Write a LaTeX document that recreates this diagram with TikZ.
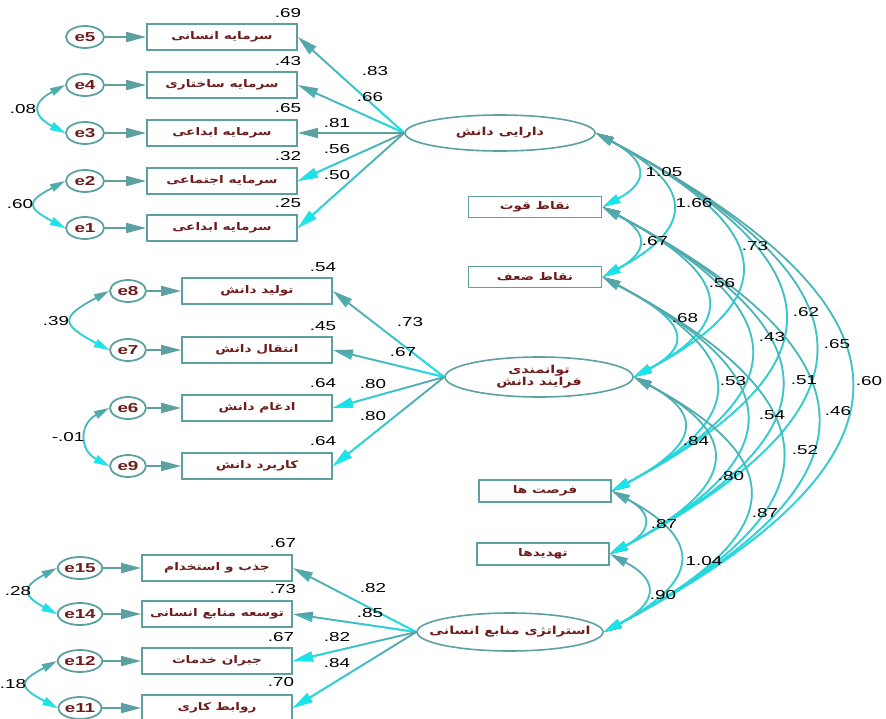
\documentclass[tikz,border=0pt]{standalone}
\usepackage{fontspec}
\setmainfont{Liberation Sans}[FakeStretch=1.45]
\newfontfamily\fa[Script=Arabic,FakeStretch=1.3]{DejaVu Sans}
\TeXXeTstate=1
\usetikzlibrary{arrows.meta,shapes.geometric,fadings,calc}
\definecolor{tealc}{RGB}{92,160,162}
\definecolor{cyanc}{RGB}{20,235,240}
\definecolor{textc}{RGB}{110,28,28}
\tikzfading[name=fadetop, top color=transparent!100, bottom color=transparent!0]
\newcommand{\fatext}[1]{{\fa\bfseries\beginR #1\endR}}
\newcommand{\lattext}[1]{\makebox[0pt]{\fatext{#1}}}
\newcommand{\gpath}[2]{\draw[tealc,#1] #2; \draw[cyanc,#1,path fading=fadetop] #2;}
\tikzset{
  box/.style={draw=tealc, line width=1.8pt, minimum width=150pt, minimum height=26pt, inner sep=0pt, text=textc, font=\fontsize{10.5}{13}\selectfont},
  rbox/.style={box, minimum width=133pt, minimum height=21pt},
  enode/.style={ellipse, draw=tealc, line width=1.8pt, minimum width=38pt, minimum height=22pt, inner sep=0pt, text=textc, font=\bfseries\fontsize{13}{15}\selectfont},
  lat/.style={ellipse, draw=tealc, line width=1.6pt, inner sep=0pt, text=textc, align=center, font=\fontsize{11}{13}\selectfont},
  num/.style={font=\fontsize{13}{15}\selectfont, inner sep=0pt, text=black},
  arr/.style={line width=1.8pt, -{Triangle[length=20pt,width=10pt]}},
  dbl/.style={line width=1.7pt, {Triangle[length=18pt,width=9pt]}-{Triangle[length=18pt,width=9pt]}},
  sdbl/.style={line width=1.7pt, {Triangle[length=15pt,width=8pt]}-{Triangle[length=15pt,width=8pt]}},
  covarc/.style={out=-28,in=28,looseness=1.93},
}
\begin{document}
\begin{tikzpicture}[x=1pt,y=1pt]
\useasboundingbox (0,0) rectangle (886,-718);
% ---------- block 1 ----------
\node[enode] (e5) at (85,-37) {e5};
\node[enode] (e4) at (85,-85) {e4};
\node[enode] (e3) at (85,-133) {e3};
\node[enode] (e2) at (85,-181) {e2};
\node[enode] (e1) at (85,-228) {e1};
\node[box] (k1) at (222,-37) {\fatext{سرمایه انسانی}};
\node[box] (k2) at (222,-85) {\fatext{سرمایه ساختاری}};
\node[box] (k3) at (222,-133) {\fatext{سرمایه ابداعی}};
\node[box] (k4) at (222,-181) {\fatext{سرمایه اجتماعی}};
\node[box] (k5) at (222,-228) {\fatext{سرمایه ابداعی}};
\node[lat, minimum width=190pt, minimum height=36pt] (A) at (500,-133) {\lattext{دارایی دانش}};
\foreach \e/\k in {e5/k1,e4/k2,e3/k3,e2/k4,e1/k5}{\draw[tealc,arr] (\e.east) -- (\k.west);}
\gpath{arr}{(A.west) -- (k1.east)}
\gpath{arr}{(A.west) -- (k2.east)}
\draw[tealc,arr] (A.west) -- (k3.east);
\gpath{arr}{(A.west) -- (k4.east)}
\gpath{arr}{(A.west) -- (k5.east)}
\gpath{sdbl}{(e4.west) to[out=208,in=152,looseness=2.0] (e3.west)}
\gpath{sdbl}{(e2.west) to[out=208,in=152,looseness=2.4] (e1.west)}
\node[num] (r1) at (288,-13) {.69};
\node[num] (r2a) at (288,-61) {.43};
\node[num] (r3) at (288,-108) {.65};
\node[num] (r4) at (288,-156) {.32};
\node[num] (r5) at (288,-203) {.25};
\node[num] (l1) at (375,-71) {.83};
\node[num] (l2) at (370,-97) {.66};
\node[num] (l3) at (337,-123) {.81};
\node[num] (l4) at (337,-149) {.56};
\node[num] (l5) at (337,-175) {.50};
\node[num] (c1) at (23,-109) {.08};
\node[num] (c2) at (20,-204) {.60};
% ---------- block 2 ----------
\node[enode, minimum width=36pt] (e8) at (128,-291) {e8};
\node[enode, minimum width=36pt] (e7) at (128,-350) {e7};
\node[enode, minimum width=36pt] (e6) at (128,-408) {e6};
\node[enode, minimum width=36pt] (e9) at (128,-466) {e9};
\node[box] (p1) at (257,-291) {\fatext{تولید دانش}};
\node[box] (p2) at (257,-350) {\fatext{انتقال دانش}};
\node[box] (p3) at (257,-408) {\fatext{ادغام دانش}};
\node[box] (p4) at (257,-466) {\fatext{کاربرد دانش}};
\node[lat, minimum width=188pt, minimum height=40pt] (D) at (539,-377) {\lattext{توانمندی}\\[-1pt]\lattext{فرایند دانش}};
\foreach \e/\k in {e8/p1,e7/p2,e6/p3,e9/p4}{\draw[tealc,arr] (\e.east) -- (\k.west);}
\gpath{arr}{(D.west) -- (p1.east)}
\gpath{arr}{(D.west) -- (p2.east)}
\gpath{arr}{(D.west) -- (p3.east)}
\gpath{arr}{(D.west) -- (p4.east)}
\gpath{sdbl}{(e8.west) to[out=208,in=152,looseness=2.4] (e7.west)}
\gpath{sdbl}{(e6.west) to[out=208,in=152,looseness=1.5] (e9.west)}
\node[num] (r6) at (323,-267) {.54};
\node[num] (r7) at (323,-326) {.45};
\node[num] (r8) at (323,-383) {.64};
\node[num] (r9) at (323,-441) {.64};
\node[num] (l6) at (410,-322) {.73};
\node[num] (l7) at (403,-352) {.67};
\node[num] (l8) at (373,-384) {.80};
\node[num] (l9) at (373,-416) {.80};
\node[num] (c3) at (56,-321) {.39};
\node[num] (c4) at (68,-437) {-.01};
% ---------- block 3 ----------
\node[enode, minimum width=36pt] (e15) at (80,-568) {e15};
\node[enode, minimum width=36pt] (e14) at (80,-614) {e14};
\node[enode, minimum width=36pt] (e12) at (80,-661) {e12};
\node[enode, minimum width=36pt] (e11) at (80,-708) {e11};
\node[box] (h1) at (217,-568) {\fatext{جذب و استخدام}};
\node[box] (h2) at (217,-614) {\fatext{توسعه منابع انسانی}};
\node[box] (h3) at (217,-661) {\fatext{جبران خدمات}};
\node[box] (h4) at (217,-708) {\fatext{روابط کاری}};
\node[lat, minimum width=186pt, minimum height=38pt] (G) at (510,-632) {\lattext{استراتژی منابع انسانی}};
\foreach \e/\k in {e15/h1,e14/h2,e12/h3,e11/h4}{\draw[tealc,arr] (\e.east) -- (\k.west);}
\gpath{arr}{(G.west) -- (h1.east)}
\gpath{arr}{(G.west) -- (h2.east)}
\gpath{arr}{(G.west) -- (h3.east)}
\gpath{arr}{(G.west) -- (h4.east)}
\gpath{sdbl}{(e15.west) to[out=208,in=152,looseness=2.2] (e14.west)}
\gpath{sdbl}{(e12.west) to[out=208,in=152,looseness=2.4] (e11.west)}
\node[num] (r10) at (283,-543) {.67};
\node[num] (r11) at (283,-589) {.73};
\node[num] (r12) at (281,-637) {.67};
\node[num] (r13) at (281,-682) {.70};
\node[num] (l10) at (373,-588) {.82};
\node[num] (l11) at (370,-613) {.85};
\node[num] (l12) at (337,-637) {.82};
\node[num] (l13) at (337,-663) {.84};
\node[num] (c5) at (18,-591) {.28};
\node[num] (c6) at (13,-684) {.18};
% ---------- right side boxes ----------
\node[rbox] (B) at (535,-207) {\fatext{نقاط قوت}};
\node[rbox] (C) at (535,-277) {\fatext{نقاط ضعف}};
\node[rbox, minimum width=132pt, minimum height=22pt] (E) at (545,-491) {\fatext{فرصت ها}};
\node[rbox, minimum width=132pt, minimum height=22pt] (F) at (543,-554) {\fatext{تهدیدها}};
% ---------- covariances ----------
\gpath{dbl}{(A.east) to[covarc] (G.east)}
\gpath{dbl}{(A.east) to[covarc] (F.east)}
\gpath{dbl}{(A.east) to[covarc] (E.east)}
\gpath{dbl}{(A.east) to[covarc] (D.east)}
\gpath{dbl}{(A.east) to[covarc] (C.east)}
\gpath{dbl}{(A.east) to[covarc] (B.east)}
\gpath{dbl}{(B.east) to[covarc] (G.east)}
\gpath{dbl}{(B.east) to[covarc] (F.east)}
\gpath{dbl}{(B.east) to[covarc] (E.east)}
\gpath{dbl}{(B.east) to[covarc] (D.east)}
\gpath{dbl}{(B.east) to[covarc] (C.east)}
\gpath{dbl}{(C.east) to[covarc] (G.east)}
\gpath{dbl}{(C.east) to[covarc] (F.east)}
\gpath{dbl}{(C.east) to[covarc] (E.east)}
\gpath{dbl}{(C.east) to[covarc] (D.east)}
\gpath{dbl}{(D.east) to[covarc] (G.east)}
\gpath{dbl}{(D.east) to[covarc] (F.east)}
\gpath{dbl}{(D.east) to[covarc] (E.east)}
\gpath{dbl}{(E.east) to[covarc] (G.east)}
\gpath{dbl}{(E.east) to[covarc] (F.east)}
\gpath{dbl}{(F.east) to[covarc] (G.east)}
\node[num] (v1) at (664,-172) {1.05};
\node[num] (v2) at (694,-203) {1.66};
\node[num] (v3) at (655,-241) {.67};
\node[num] (v4) at (755,-246) {.73};
\node[num] (v5) at (722,-283) {.56};
\node[num] (v6) at (685,-318) {.68};
\node[num] (v7) at (806,-312) {.62};
\node[num] (v8) at (772,-337) {.43};
\node[num] (v9) at (837,-344) {.65};
\node[num] (v10) at (733,-381) {.53};
\node[num] (v11) at (804,-380) {.51};
\node[num] (v12) at (869,-381) {.60};
\node[num] (v13) at (772,-415) {.54};
\node[num] (v14) at (838,-411) {.46};
\node[num] (v15) at (696,-441) {.84};
\node[num] (v16) at (805,-450) {.52};
\node[num] (v17) at (731,-476) {.80};
\node[num] (v18) at (664,-524) {.87};
\node[num] (v19) at (765,-513) {.87};
\node[num] (v20) at (704,-561) {1.04};
\node[num] (v21) at (663,-595) {.90};
\end{tikzpicture}
\end{document}
